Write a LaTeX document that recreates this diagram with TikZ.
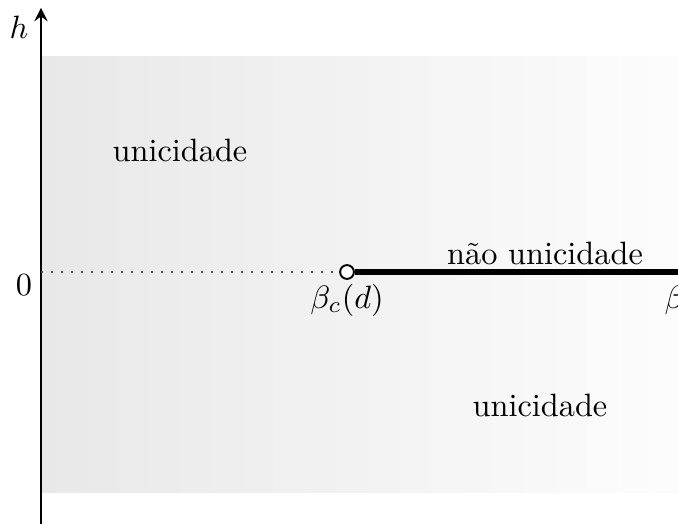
\documentclass[tikz,border=0pt]{standalone}
\usepackage{amsmath}
\usepackage{xcolor}
\usepackage{tikz}
\usetikzlibrary{shapes,arrows,calc}
\tikzstyle{tsRegion} = [
    text=black,
    font=\normalsize
]
\tikzstyle{tsAxis} = [
    ->,
    >=stealth,
    line width=0.8pt
]
\tikzstyle{tsOpenDot} = [
    circle,
    draw=black,
    fill=white,
    line width=0.6pt,
    inner sep=0pt,
    minimum size=0.15cm
]

\begin{document}
\begin{tikzpicture}[x=0.010885cm, y=-0.010885cm]

        \clip (0,0) rectangle (678,524);

        % shaded band
        \shade[left color=black!9, right color=black!1] (41,57) rectangle (678,492);

        \coordinate (axisbot) at (41,524);
        \coordinate (axistop) at (41,8);
        \coordinate (zero) at (41,272);
        \coordinate (farright) at (690,272);

        \draw[tsAxis] (axisbot) -- (axistop);

        \node[tsOpenDot] (betac) at (347,272) { };

        \draw[black!70, line width=0.5pt, dash pattern=on 0.5pt off 2.6pt] (zero) -- (betac.west);
        \draw[line width=1.6pt] (betac.east) -- (farright);

        \node at (19,27) {$h$};
        \node at (24,285) {$0$};
        \node at (347,300) {$\beta_c(d)$};
        \node[anchor=west, inner sep=0pt] at (664,300) {$\beta$};

        \node[tsRegion] (uniqtop) at (180,150) {unicidade};
        \node[tsRegion] (nonuniq) at (545,253) {não unicidade};
        \node[tsRegion] (uniqbot) at (540,405) {unicidade};

\end{tikzpicture}
\end{document}
